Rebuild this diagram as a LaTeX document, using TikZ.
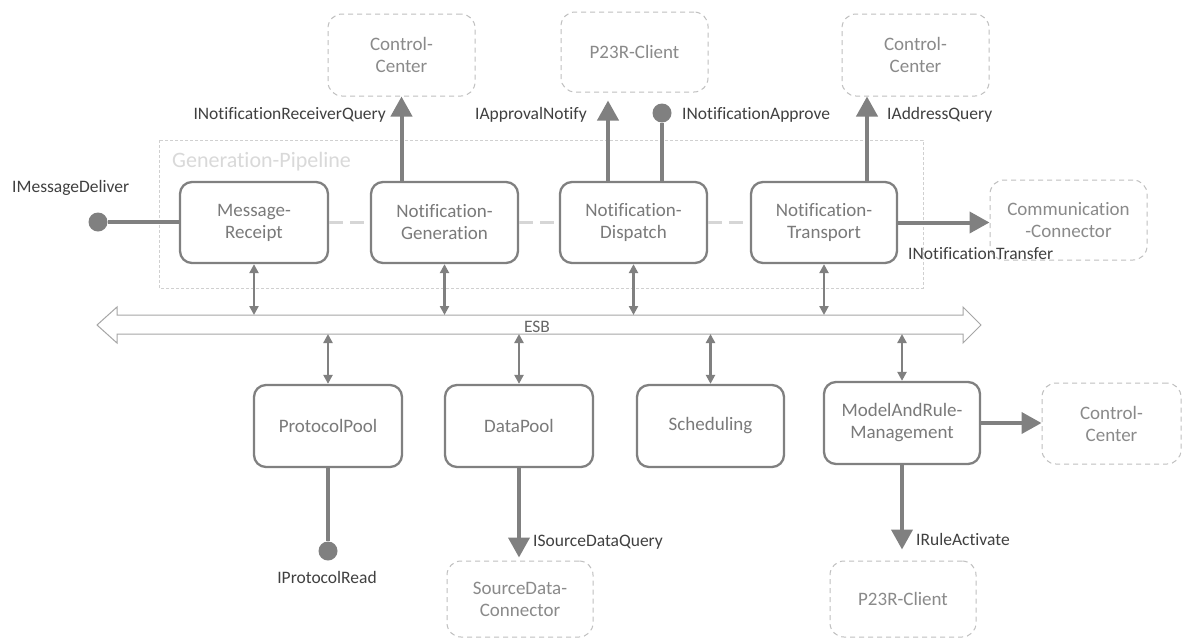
\documentclass[tikz,border=0pt]{standalone}
\usepackage{fontspec}
\setmainfont{Carlito}[Ligatures=NoCommon]
\usetikzlibrary{arrows.meta,calc}
\definecolor{boxc}{HTML}{808080}
\definecolor{boxtxt}{HTML}{7A7A7A}
\definecolor{extc}{HTML}{BFBFBF}
\definecolor{exttxt}{HTML}{8A8A8A}
\definecolor{lbltxt}{HTML}{404040}
\definecolor{arrc}{HTML}{808080}
\definecolor{esbc}{HTML}{A6A6A6}
\definecolor{pipec}{HTML}{D0D0D0}
\definecolor{pipetxt}{HTML}{D9D9D9}
\definecolor{dashc}{HTML}{D6D6D6}
\newcommand{\boxfont}{\fontsize{19}{22}\selectfont}
\newcommand{\lblfont}{\fontsize{17.5}{20}\selectfont}
\tikzset{
  comp/.style={draw=boxc, line width=2.3pt, rounded corners=12pt, text=boxtxt, font=\boxfont, align=center, inner sep=0pt},
  ext/.style={draw=extc, line width=1pt, dash pattern=on 5pt off 4pt, rounded corners=14pt, text=exttxt, font=\boxfont, align=center, inner sep=0pt},
  lbl/.style={text=lbltxt, font=\lblfont, inner sep=0pt},
  big/.style={draw=arrc, line width=4pt, -{Triangle[length=20pt,width=21pt]}},
  bidir/.style={draw=arrc, line width=2.3pt, {Triangle[length=9pt,width=9pt]}-{Triangle[length=9pt,width=9pt]}},
  lolly/.style={circle, fill=arrc, inner sep=0pt, minimum size=19pt},
  lollyline/.style={draw=arrc, line width=4pt},
  pipedash/.style={draw=dashc, line width=3pt, dash pattern=on 14pt off 7pt},
}
\begin{document}
\begin{tikzpicture}[x=1pt,y=-1pt]
\useasboundingbox (0,0) rectangle (1182,638);
\fill[white] (0,0) rectangle (1182,638);

% Generation pipeline container
\draw[draw=pipec, line width=0.8pt, dash pattern=on 3pt off 2pt] (159,140) rectangle (923,288);
\node[anchor=base west, inner sep=0pt, text=pipetxt, font=\fontsize{22}{24}\selectfont] (gplabel) at (172,167) {Generation-Pipeline};

% pipeline components
\node[comp, minimum width=148pt, minimum height=81pt] (mr) at (254,222.5) {Message-\\Receipt};
\node[comp, minimum width=147pt, minimum height=81pt] (ng) at (444.5,222.5) {Notification-\\Generation};
\node[comp, minimum width=147pt, minimum height=81pt] (nd) at (633.5,222.5) {Notification-\\Dispatch};
\node[comp, minimum width=146pt, minimum height=81pt] (nt) at (824,222.5) {Notification-\\Transport};

% external top
\node[ext, minimum width=147pt, minimum height=82pt] (cc1) at (401.5,55) {Control-\\Center};
\node[ext, minimum width=147pt, minimum height=80pt] (p23t) at (634.5,52) {P23R-Client};
\node[ext, minimum width=147pt, minimum height=82pt] (cc2) at (915.5,55) {Control-\\Center};
\node[ext, minimum width=157pt, minimum height=80pt] (comm) at (1068.5,220) {Communication\\-Connector};

% bottom components
\node[comp, minimum width=148pt, minimum height=82pt] (pp) at (328,426) {ProtocolPool};
\node[comp, minimum width=148pt, minimum height=82pt] (dp) at (519,426) {DataPool};
\node[comp, minimum width=147pt, minimum height=82pt] (sch) at (710.5,426) {Scheduling};
\node[comp, minimum width=156pt, minimum height=82pt] (mrm) at (902,423) {ModelAndRule-\\Management};

% external bottom
\node[ext, minimum width=139pt, minimum height=81pt] (ccb) at (1111.5,423.5) {Control-\\Center};
\node[ext, minimum width=146pt, minimum height=76pt] (sdc) at (520,599) {SourceData-\\Connector};
\node[ext, minimum width=146pt, minimum height=76pt] (p23b) at (903,599) {P23R-Client};

% ESB
\draw[draw=esbc, line width=1pt, fill=white, line join=miter]
  (97,325) -- (117,307) -- (117,315) -- (963,315) -- (963,307) -- (981,325)
  -- (963,343) -- (963,334) -- (117,334) -- (117,343) -- cycle;
\node[anchor=base, inner sep=0pt, text=lbltxt!80, font=\lblfont] (esb) at (537,332) {ESB};
\coordinate (esbT) at (0,315);
\coordinate (esbB) at (0,334);

% dashed pipeline links
\draw[pipedash] (mr.east) -- (ng.west);
\draw[pipedash] (ng.east) -- (nd.west);
\draw[pipedash] (nd.east) -- (nt.west);

% bus links
\draw[bidir] (mr.south) -- (mr.south |- esbT);
\draw[bidir] (ng.south) -- (ng.south |- esbT);
\draw[bidir] (nd.south) -- (nd.south |- esbT);
\draw[bidir] (nt.south) -- (nt.south |- esbT);
\draw[bidir] (pp.north) -- (pp.north |- esbB);
\draw[bidir] (dp.north) -- (dp.north |- esbB);
\draw[bidir] (sch.north) -- (sch.north |- esbB);
\draw[bidir] (mrm.north) -- (mrm.north |- esbB);

% top interfaces
\draw[big] (ng.north -| cc1.south) -- (cc1.south);
\coordinate (ndA) at ($(nd.north)+(-25.5,0)$);
\draw[big, shorten >=8pt] (ndA) -- (ndA |- p23t.south);
\coordinate (ndB) at ($(nd.north)+(28.5,0)$);
\node[lolly] (lp2) at (662,113) {};
\draw[lollyline] (ndB) -- (lp2);
\coordinate (ntA) at ($(nt.north)+(43,0)$);
\draw[big] (ntA) -- (ntA |- cc2.south);

\node[lbl, anchor=base east] (l1) at (386,119) {INotificationReceiverQuery};
\node[lbl, anchor=base east] (l2) at (587,119) {IApprovalNotify};
\node[lbl, anchor=base west] (l3) at (682,119) {INotificationApprove};
\node[lbl, anchor=base west] (l4) at (887,119) {IAddressQuery};

% message deliver
\node[lolly] (lp1) at (98,222) {};
\draw[lollyline] (lp1) -- (lp1 -| mr.west);
\node[lbl, anchor=base west] (l5) at (12,192) {IMessageDeliver};

% transfer
\draw[big] (nt.east) -- (nt.east -| comm.west);
\node[lbl, anchor=base west] (l6) at (908,259) {INotificationTransfer};

% bottom interfaces
\node[lolly] (lp3) at (328,551) {};
\draw[lollyline] (pp.south) -- (lp3);
\node[lbl, anchor=base] (l7) at (327,583) {IProtocolRead};

\draw[big, shorten >=3pt] (dp.south) -- (dp.south |- sdc.north);
\node[lbl, anchor=base west] (l8) at (533,546) {ISourceDataQuery};

\draw[big, shorten >=11pt] (mrm.south) -- (mrm.south |- p23b.north);
\node[lbl, anchor=base west] (l9) at (916,545) {IRuleActivate};

\draw[big] (mrm.east) -- (mrm.east -| ccb.west);
\end{tikzpicture}
\end{document}
